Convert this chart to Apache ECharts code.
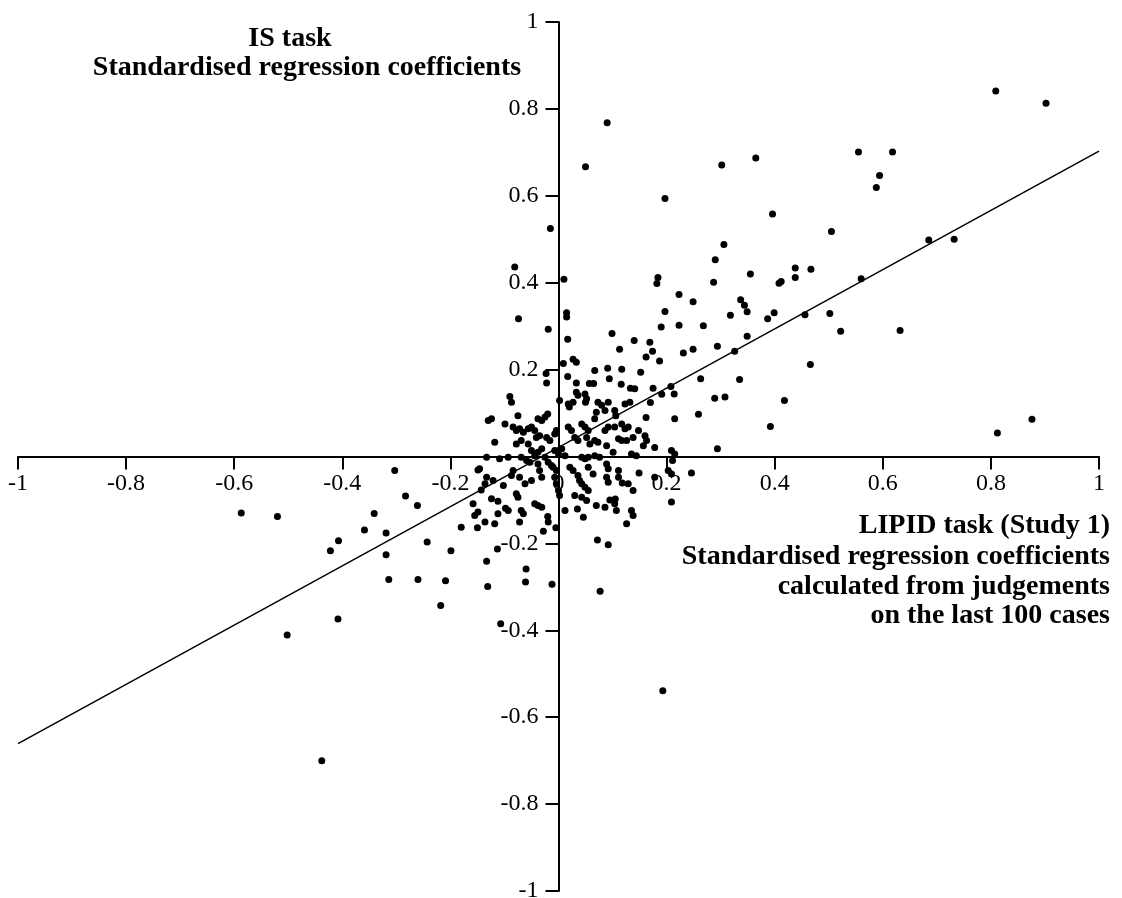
<!DOCTYPE html>
<html>
<head>
<meta charset="utf-8">
<script src="https://cdn.jsdelivr.net/npm/echarts@6/dist/echarts.min.js"></script>
<style>html,body{margin:0;padding:0;background:#fff}#c{width:1122px;height:898px}</style>
</head>
<body>
<div id="c"></div>
<script>
// LIPID task (x) vs IS task (y) standardised regression coefficients
const lipidX = [
0.809,0.902,0.090,0.050,0.302,0.365,0.555,0.618,0.594,0.588,0.197,0.396,0.505,0.685,0.732,0.306,0.290,0.010,0.184,0.182,
0.287,0.355,0.438,0.467,0.408,0.412,0.438,0.560,0.223,0.249,0.337,0.344,0.349,0.015,0.015,0.197,0.318,0.399,0.387,0.456,
0.502,0.522,0.632,0.190,0.223,0.268,0.017,0.099,0.349,0.140,0.113,0.169,0.174,0.162,0.187,0.294,0.231,0.249,0.326,0.009,
0.027,0.033,0.067,0.091,0.117,0.152,0.466,0.017,0.033,0.057,0.065,0.094,0.116,0.133,0.141,0.175,0.191,0.208,0.214,0.263,
0.335,0.289,0.308,0.418,0.170,0.162,0.215,0.259,0.392,0.812,0.876,0.294,0.129,0.106,
-0.022,-0.090,-0.087,0.002,0.018,0.020,0.027,0.033,0.036,0.049,0.052,0.050,0.073,0.080,0.086,0.092,0.070,0.067,0.104,0.123,
0.132,-0.130,-0.124,-0.099,-0.075,-0.084,-0.078,-0.072,-0.065,-0.056,-0.050,-0.044,-0.038,-0.031,-0.025,-0.020,-0.041,-0.035,-0.022,-0.016,
-0.007,-0.004,-0.118,-0.078,-0.069,-0.056,0.018,0.024,0.030,0.036,0.043,0.049,0.055,0.052,0.058,0.067,0.073,0.086,0.092,0.089,
0.104,0.117,0.123,0.111,0.117,0.126,0.138,0.148,0.160,0.163,0.157,0.178,0.209,0.215,0.135,0.144,0.101,0.043,0.049,0.055,
0.067,0.076,-0.007,0.000,0.006,0.012,-0.050,-0.044,-0.038,-0.031,-0.069,-0.059,-0.053,-0.025,-0.019,-0.013,-0.133,-0.109,-0.093,-0.146,
-0.133,-0.136,-0.121,-0.102,-0.087,-0.084,-0.072,-0.062,-0.050,-0.038,-0.035,-0.031,-0.010,-0.004,-0.007,-0.004,0.000,0.002,0.021,0.027,
0.036,0.039,0.043,0.049,0.055,0.030,0.043,0.052,0.055,0.064,0.089,0.092,0.089,0.092,0.111,0.111,0.129,0.149,0.138,0.178,
0.203,0.209,0.209,0.070,0.086,0.104,0.107,0.135,0.138,0.126,0.046,0.012,-0.044,-0.038,-0.031,-0.069,-0.065,-0.078,-0.075,-0.093,
-0.112,-0.124,-0.149,-0.155,-0.158,-0.136,-0.118,-0.180,-0.072,-0.019,
-0.303,-0.149,-0.143,-0.283,-0.261,-0.341,-0.112,-0.150,-0.359,-0.319,-0.407,-0.422,-0.243,-0.199,-0.319,-0.113,-0.133,-0.314,-0.260,-0.209,
-0.131,-0.218,-0.408,-0.107,-0.587,-0.520,-0.502,-0.438,-0.060,-0.061,-0.012,-0.098,-0.028,-0.005,-0.020,
0.211,0.246,0.072,0.092,0.077,0.193,0.035,0.095,0.105,0.118,
-0.015,-0.081,-0.074,-0.019,-0.023
];
const isY = [
0.841,0.813,0.768,0.667,0.671,0.687,0.701,0.701,0.647,0.619,0.594,0.558,0.518,0.498,0.500,0.488,0.453,0.408,0.412,0.398,
0.401,0.420,0.434,0.431,0.399,0.403,0.412,0.409,0.373,0.356,0.361,0.348,0.333,0.331,0.321,0.334,0.325,0.331,0.317,0.326,
0.329,0.288,0.290,0.298,0.302,0.301,0.270,0.283,0.277,0.267,0.247,0.263,0.242,0.229,0.220,0.254,0.238,0.247,0.242,0.214,
0.224,0.217,0.198,0.203,0.201,0.194,0.212,0.184,0.169,0.168,0.168,0.179,0.166,0.157,0.156,0.157,0.143,0.161,0.144,0.179,
0.177,0.134,0.137,0.129,0.124,0.090,0.087,0.097,0.069,0.054,0.086,0.018,0.068,0.094,
0.169,0.138,0.125,0.129,0.121,0.114,0.125,0.148,0.141,0.144,0.133,0.125,0.125,0.118,0.106,0.125,0.102,0.087,0.106,0.121,
0.125,0.083,0.087,0.075,0.094,0.068,0.060,0.064,0.056,0.064,0.068,0.060,0.087,0.083,0.091,0.098,0.044,0.048,0.044,0.037,
0.052,0.060,0.033,0.029,0.037,0.029,0.068,0.060,0.044,0.037,0.075,0.068,0.060,0.044,0.029,0.037,0.033,0.060,0.068,0.025,
0.068,0.075,0.064,0.041,0.037,0.037,0.044,0.060,0.048,0.037,0.025,0.021,0.014,0.006,0.006,0.002,0.010,-0.002,-0.005,-0.002,
0.002,-0.002,0.014,0.006,0.018,0.002,0.014,0.002,0.010,0.018,-0.002,-0.009,-0.013,-0.002,-0.013,-0.021,-0.002,-0.005,-0.002,-0.028,
-0.048,-0.063,-0.055,-0.067,-0.044,-0.032,-0.048,-0.063,-0.055,-0.017,-0.032,-0.048,-0.025,-0.032,-0.048,-0.063,-0.078,-0.090,-0.025,-0.032,
-0.044,-0.055,-0.063,-0.071,-0.078,-0.090,-0.094,-0.101,-0.025,-0.040,-0.017,-0.028,-0.048,-0.059,-0.032,-0.048,-0.063,-0.038,-0.078,-0.048,
-0.032,-0.040,-0.105,-0.113,-0.117,-0.109,-0.124,-0.124,-0.136,-0.155,-0.140,-0.124,-0.109,-0.113,-0.117,-0.124,-0.132,-0.086,-0.094,-0.124,
-0.132,-0.097,-0.128,-0.136,-0.109,-0.151,-0.155,-0.163,-0.151,-0.151,
-0.032,-0.031,-0.077,-0.091,-0.113,-0.131,-0.103,-0.164,-0.169,-0.176,-0.194,-0.217,-0.197,-0.217,-0.226,-0.213,-0.241,-0.283,-0.283,-0.286,
-0.299,-0.343,-0.374,-0.385,-0.130,-0.138,-0.411,-0.700,-0.259,-0.289,-0.294,-0.119,-0.172,-0.164,-0.138,
-0.009,-0.038,-0.192,-0.203,-0.310,-0.539,-0.121,-0.100,-0.098,-0.061,
0.525,0.436,0.317,0.293,0.191
];
// fitted regression line end points
const fitX = [-1, 1];
const fitY = [-0.661, 0.703];
const axisMin = -1, axisMax = 1, axisStep = 0.2;

const points = lipidX.map((x, i) => [x, isY[i]]);
const fitLine = fitX.map((x, i) => [x, fitY[i]]);

// layout (pixels)
const W = 1122, H = 898;
const G = {left: 18, right: 23, top: 22, bottom: 7};
const gw = W - G.left - G.right, gh = H - G.top - G.bottom;
// move the axes from the grid edges to the zero lines
const xOffset = -(gh * (0 - axisMin) / (axisMax - axisMin));
const yOffset = -(gw * (0 - axisMin) / (axisMax - axisMin));

const FONT = "'Liberation Serif','DejaVu Serif',serif";
const chart = echarts.init(document.getElementById('c'), null, {renderer: 'canvas'});
const axisCommon = {
  type: 'value', min: axisMin, max: axisMax, interval: axisStep,
  splitLine: {show: false},
  axisLine: {show: true, onZero: false, lineStyle: {color: '#000', width: 2}},
  axisTick: {show: true, inside: false, length: 13, lineStyle: {color: '#000', width: 2}},
};
chart.setOption({
  animation: false,
  backgroundColor: '#fff',
  grid: Object.assign({containLabel: false, outerBoundsMode: 'none'}, G),
  xAxis: Object.assign({}, axisCommon, {
    position: 'bottom', offset: xOffset,
    axisLabel: {margin: 15, fontFamily: FONT, fontSize: 24, color: '#000',
      showMinLabel: true, showMaxLabel: true, hideOverlap: false,
      formatter: v => String(Math.round(v * 10) / 10)}
  }),
  yAxis: Object.assign({}, axisCommon, {
    position: 'left', offset: yOffset,
    axisLabel: {margin: 20, fontFamily: FONT, fontSize: 24, color: '#000',
      showMinLabel: true, showMaxLabel: true, hideOverlap: false,
      formatter: v => Math.abs(v) < 1e-9 ? '' : String(Math.round(v * 10) / 10)}
  }),
  series: [
    {type: 'line', data: fitLine, symbol: 'none', silent: true,
     lineStyle: {color: '#000', width: 1.5}, z: 2},
    {type: 'scatter', data: points, symbol: 'circle', symbolSize: 7,
     itemStyle: {color: '#000', opacity: 1}, z: 3}
  ],
  graphic: [
    {type: 'text', x: 290, y: 39, style: {text: 'IS task', font: "bold 28px " + FONT, fill: '#000', textAlign: 'center', textVerticalAlign: 'middle'}},
    {type: 'text', x: 307, y: 68, style: {text: 'Standardised regression coefficients', font: "bold 28px " + FONT, fill: '#000', textAlign: 'center', textVerticalAlign: 'middle'}},
    {type: 'text', x: 1110, y: 526, style: {text: 'LIPID task (Study 1)', font: "bold 28px " + FONT, fill: '#000', textAlign: 'right', textVerticalAlign: 'middle'}},
    {type: 'text', x: 1110, y: 557, style: {text: 'Standardised regression coefficients', font: "bold 28px " + FONT, fill: '#000', textAlign: 'right', textVerticalAlign: 'middle'}},
    {type: 'text', x: 1110, y: 587, style: {text: 'calculated from judgements', font: "bold 28px " + FONT, fill: '#000', textAlign: 'right', textVerticalAlign: 'middle'}},
    {type: 'text', x: 1110, y: 616, style: {text: 'on the last 100 cases', font: "bold 28px " + FONT, fill: '#000', textAlign: 'right', textVerticalAlign: 'middle'}}
  ]
});
</script>
</body>
</html>
